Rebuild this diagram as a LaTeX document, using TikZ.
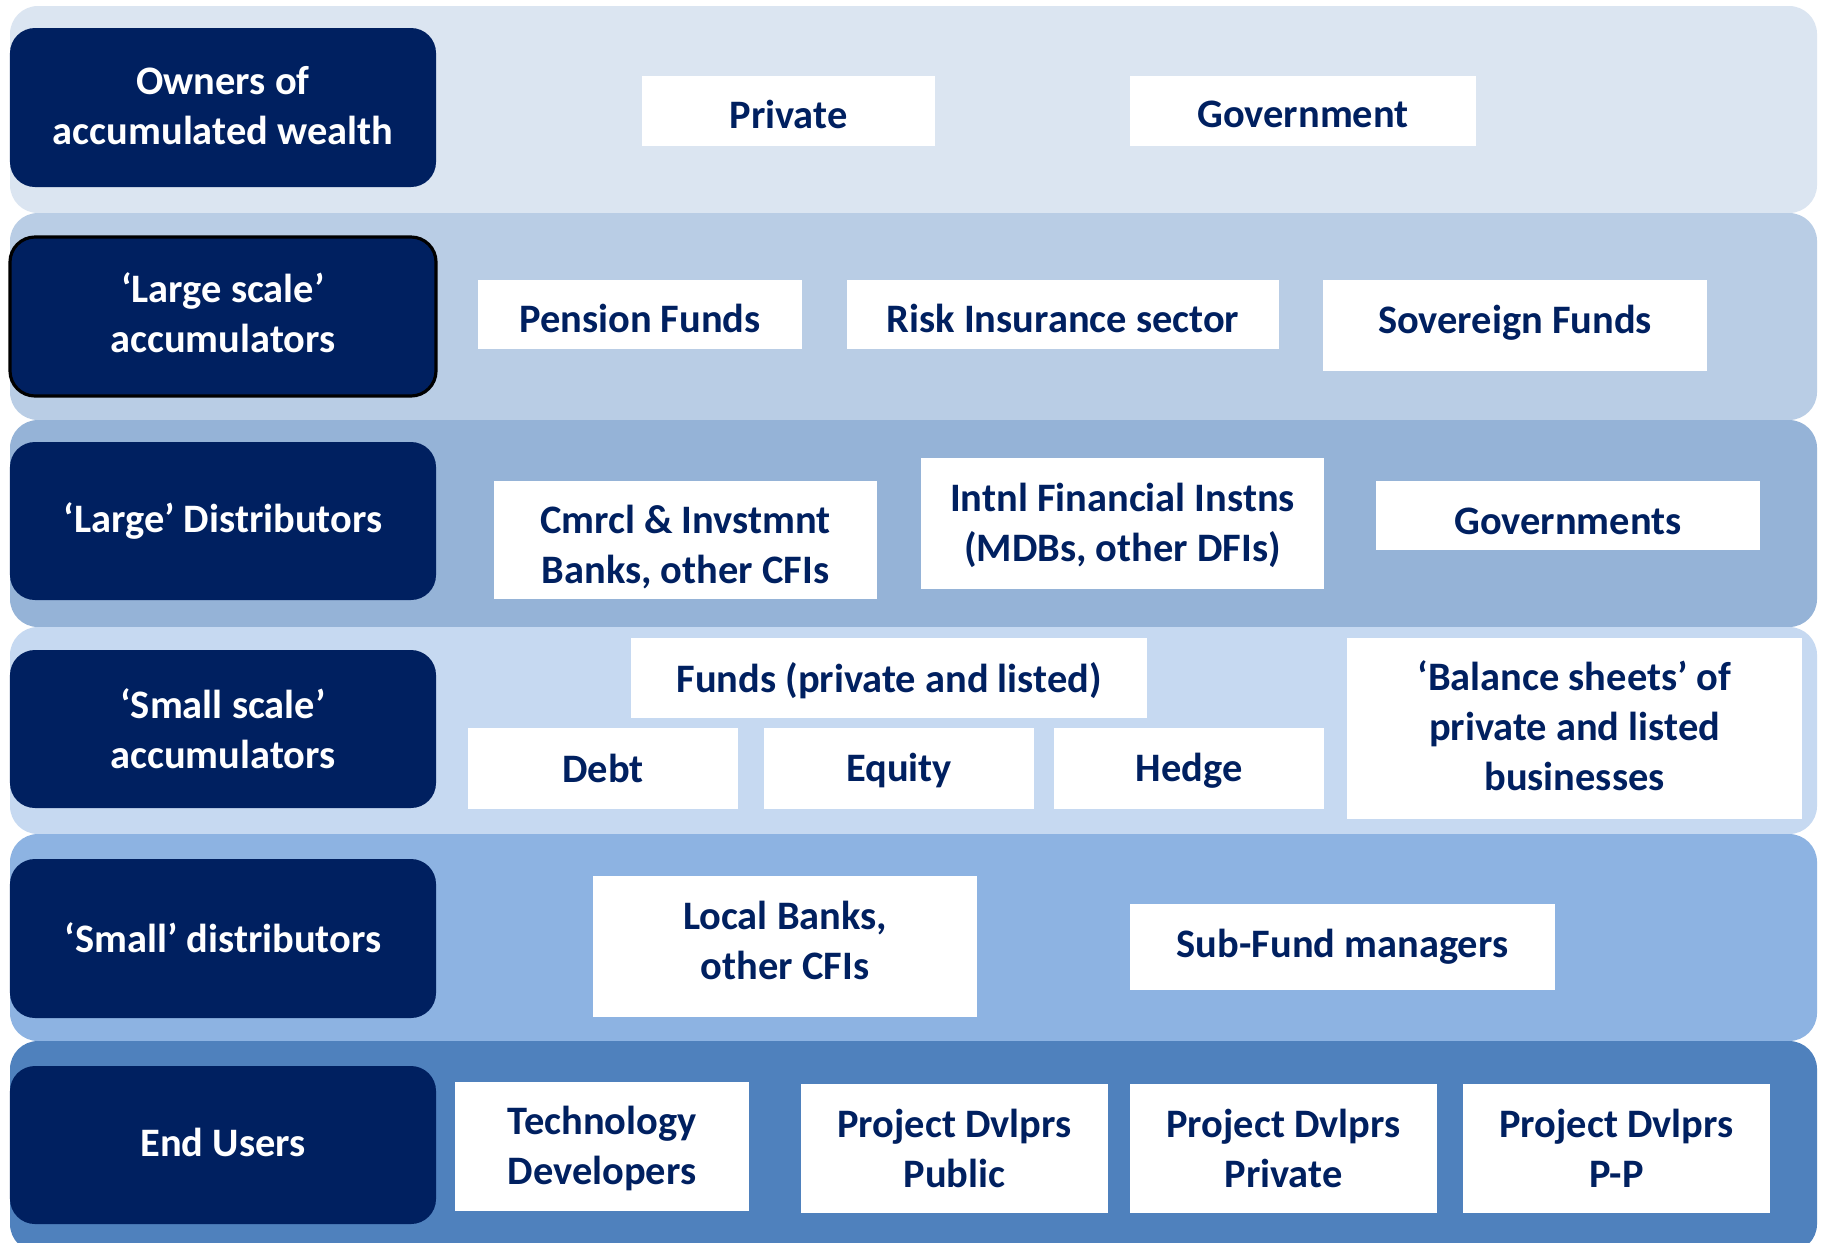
\documentclass[tikz,border=0pt]{standalone}
\usepackage{fontspec}
\setmainfont{Carlito}
\definecolor{bandA}{HTML}{DBE5F1}
\definecolor{bandB}{HTML}{B9CDE5}
\definecolor{bandC}{HTML}{95B3D7}
\definecolor{bandD}{HTML}{C6D9F1}
\definecolor{bandE}{HTML}{8DB3E2}
\definecolor{bandF}{HTML}{4F81BD}
\definecolor{navy}{HTML}{002060}
% name, box style, text colour, x1, y1, x2, y2, text shift (px, down), text
\newcommand{\mkbox}[9]{%
 \pgfmathsetmacro{\cx}{(#4+#6)/2}\pgfmathsetmacro{\cy}{(#5+#7)/2}%
 \pgfmathsetmacro{\ty}{\cy+#8}%
 \pgfmathsetmacro{\ww}{(#6-#4)*0.01}\pgfmathsetmacro{\hh}{(#7-#5)*0.01}%
 \node[#2, minimum width=\ww cm, minimum height=\hh cm] (#1) at (\cx,\cy) {};
 \node[txt, text=#3] (#1-t) at (\cx,\ty) {#9};}
\begin{document}
\begin{tikzpicture}[x=0.01cm,y=-0.01cm,
  txt/.style={font=\fontsize{11.5}{14.2}\selectfont\bfseries, align=center, inner sep=0pt},
  wb/.style={inner sep=0pt, fill=white},
  lbl/.style={inner sep=0pt, fill=navy, rounded corners=0.25cm},
  lblb/.style={lbl, draw=black, line width=0.9pt},
  bandbox/.style={rounded corners=0.28cm}]
\useasboundingbox (0,0) rectangle (1822,1242);
\fill[white] (0,0) rectangle (1822,1242);
\begin{scope}
\clip (0,0) rectangle (1822,1242);
\fill[bandA, bandbox] (10,6) rectangle (1817,213);
\fill[bandB, bandbox] (10,213) rectangle (1817,420);
\fill[bandC, bandbox] (10,420) rectangle (1817,627);
\fill[bandD, bandbox] (10,627) rectangle (1817,834);
\fill[bandE, bandbox] (10,834) rectangle (1817,1041);
\fill[bandF, bandbox] (10,1041) rectangle (1817,1252);
\end{scope}
% labels
\mkbox{l1}{lbl}{white}{10}{28}{436}{187}{-2.3}{Owners of\\accumulated wealth}
\mkbox{l2}{lblb}{white}{10}{237}{436}{396}{-4}{‘Large scale’\\accumulators}
\mkbox{l3}{lbl}{white}{10}{442}{436}{600}{0}{‘Large’ Distributors}
\mkbox{l4}{lbl}{white}{10}{650}{436}{808}{0}{‘Small scale’\\accumulators}
\mkbox{l5}{lbl}{white}{10}{859}{436}{1018}{-1}{‘Small’ distributors}
\mkbox{l6}{lbl}{white}{10}{1066}{436}{1224}{-2.3}{End Users}
% row 1
\mkbox{private}{wb}{navy}{642}{76}{935}{146}{3.5}{Private}
\mkbox{government}{wb}{navy}{1130}{76}{1476}{146}{3.5}{Government}
% row 2
\mkbox{pension}{wb}{navy}{478}{280}{802}{349}{3.5}{Pension Funds}
\mkbox{risk}{wb}{navy}{847}{280}{1279}{349}{3.5}{Risk Insurance sector}
\mkbox{sovereign}{wb}{navy}{1323}{280}{1707}{371}{-2.5}{Sovereign Funds}
% row 3
\mkbox{cmrcl}{wb}{navy}{494}{481}{877}{599}{7}{Cmrcl \& Invstmnt\\Banks, other CFIs}
\mkbox{intnl}{wb}{navy}{921}{458}{1324}{589}{2}{Intnl Financial Instns\\(MDBs, other DFIs)}
\mkbox{govts}{wb}{navy}{1376}{481}{1760}{550}{6}{Governments}
% row 4
\mkbox{funds}{wb}{navy}{631}{638}{1147}{718}{2.3}{Funds (private and listed)}
\mkbox{debt}{wb}{navy}{468}{728}{738}{809}{0}{Debt}
\mkbox{equity}{wb}{navy}{764}{728}{1034}{809}{2.3}{Equity}
\mkbox{hedge}{wb}{navy}{1054}{728}{1324}{809}{2.3}{Hedge}
\mkbox{balance}{wb}{navy}{1347}{638}{1802}{819}{-3}{‘Balance sheets’ of\\private and listed\\businesses}
% row 5
\mkbox{local}{wb}{navy}{593}{876}{977}{1017}{-6}{Local Banks,\\other CFIs}
\mkbox{subfund}{wb}{navy}{1130}{904}{1555}{990}{0}{Sub-Fund managers}
% row 6
\mkbox{tech}{wb}{navy}{455}{1082}{749}{1211}{2.3}{Technology\\Developers}
\mkbox{pdpub}{wb}{navy}{801}{1084}{1108}{1213}{0}{Project Dvlprs\\Public}
\mkbox{pdpriv}{wb}{navy}{1130}{1084}{1437}{1213}{0}{Project Dvlprs\\Private}
\mkbox{pdpp}{wb}{navy}{1463}{1084}{1770}{1213}{0}{Project Dvlprs\\P-P}
\end{tikzpicture}
\end{document}
